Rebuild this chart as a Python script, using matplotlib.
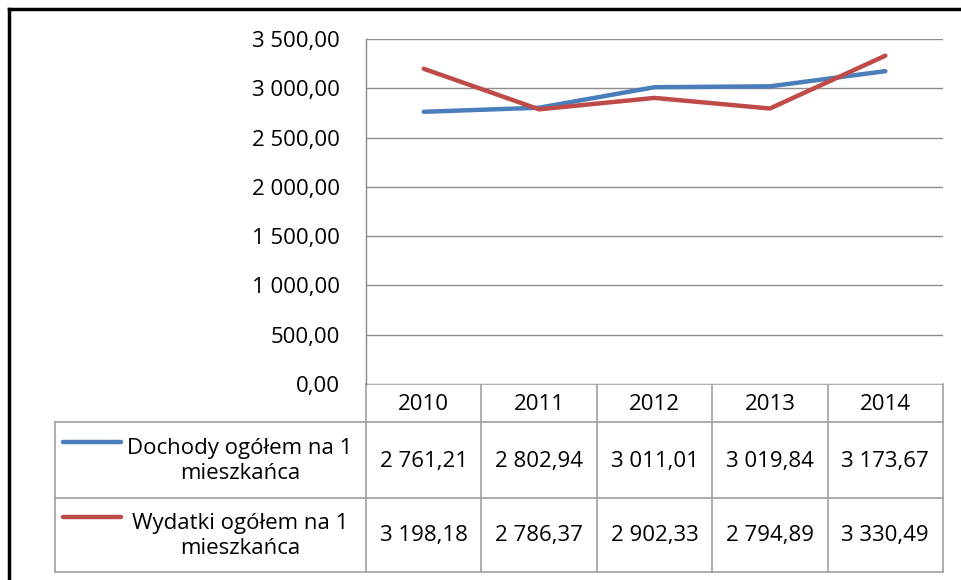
import matplotlib
matplotlib.use("Agg")
import matplotlib.pyplot as plt
from matplotlib.lines import Line2D

plt.rcParams['font.family'] = ['Open Sans', 'DejaVu Sans']

years = ['2010', '2011', '2012', '2013', '2014']
dochody = [2761.21, 2802.94, 3011.01, 3019.84, 3173.67]
wydatki = [3198.18, 2786.37, 2902.33, 2794.89, 3330.49]
series_names = ['Dochody ogółem na 1\nmieszkańca', 'Wydatki ogółem na 1\nmieszkańca']
series_colors = ['#4A7EBB', '#BE4B48']
yticks = [0, 500, 1000, 1500, 2000, 2500, 3000, 3500]


def pl_fmt(v):
    # polish number format: space thousands, comma decimal
    s = '{:,.2f}'.format(v)
    return s.replace(',', ' ').replace('.', ',')


W, H = 961, 580
fig = plt.figure(figsize=(W / 100, H / 100), dpi=100)
fs = 16

# plot area in pixels
px0, px1 = 366, 943
py0, py1 = 39, 384
ax = fig.add_axes([px0 / W, 1 - py1 / H, (px1 - px0) / W, (py1 - py0) / H])
x = list(range(len(years)))
for vals, col in zip([dochody, wydatki], series_colors):
    ax.plot(x, vals, color=col, lw=3.2, solid_capstyle='round', zorder=3)
ax.set_xlim(-0.5, len(years) - 0.5)
ax.set_ylim(0, 3500)
ax.set_yticks(yticks)
ax.set_yticklabels([pl_fmt(v) for v in yticks], fontsize=fs, color='#000000')
ax.tick_params(axis='y', length=0, pad=19)
ax.set_xticks([])
ax.grid(axis='y', color='#8C8C8C', lw=1.0)
ax.set_axisbelow(True)
for side in ['top', 'right', 'bottom']:
    ax.spines[side].set_visible(False)
ax.spines['left'].set_color('#8C8C8C')
ax.spines['left'].set_linewidth(1.0)

# overlay in pixel coords for the data table
ov = fig.add_axes([0, 0, 1, 1], zorder=-1)
ov.set_xlim(0, W)
ov.set_ylim(H, 0)
ov.axis('off')

grey = '#A0A0A0'
tl = 55
hdr_top, row1_top, row2_top, tab_bot = 384, 422, 498, 572
colw = (px1 - px0) / len(years)

# horizontal lines
ov.plot([px0, px1], [hdr_top, hdr_top], color=grey, lw=1.2)
ov.plot([tl, px1], [row1_top, row1_top], color=grey, lw=1.2)
ov.plot([tl, px1], [row2_top, row2_top], color=grey, lw=1.2)
ov.plot([tl, px1], [tab_bot, tab_bot], color=grey, lw=1.2)
# vertical lines
ov.plot([tl, tl], [row1_top, tab_bot], color=grey, lw=1.2)
for i in range(len(years) + 1):
    xe = px0 + i * colw
    ov.plot([xe, xe], [hdr_top, tab_bot], color=grey, lw=1.2)

for i, yr in enumerate(years):
    xc = px0 + (i + 0.5) * colw
    ov.text(xc, (hdr_top + row1_top) / 2 + 1, yr, ha='center', va='center', fontsize=fs)
    ov.text(xc, (row1_top + row2_top) / 2 + 1, pl_fmt(dochody[i]), ha='center', va='center', fontsize=fs)
    ov.text(xc, (row2_top + tab_bot) / 2 + 1, pl_fmt(wydatki[i]), ha='center', va='center', fontsize=fs)

for (top, bot), name, col in zip([(row1_top, row2_top), (row2_top, tab_bot)], series_names, series_colors):
    yc = (top + bot) / 2
    ov.plot([63, 121], [yc - 18, yc - 18], color=col, lw=3.2, solid_capstyle='round')
    ov.text(240, yc + 1, name, ha='center', va='center', fontsize=fs, multialignment='center', linespacing=1.3)

# chart frame (left and top edges only, the rest is cut off)
fig.add_artist(Line2D([9 / W, 9 / W], [0, 1 - 8.5 / H], color='black', lw=2.5))
fig.add_artist(Line2D([9 / W, 1], [1 - 8.5 / H, 1 - 8.5 / H], color='black', lw=2.5))

fig.savefig('out.png', dpi=100)
